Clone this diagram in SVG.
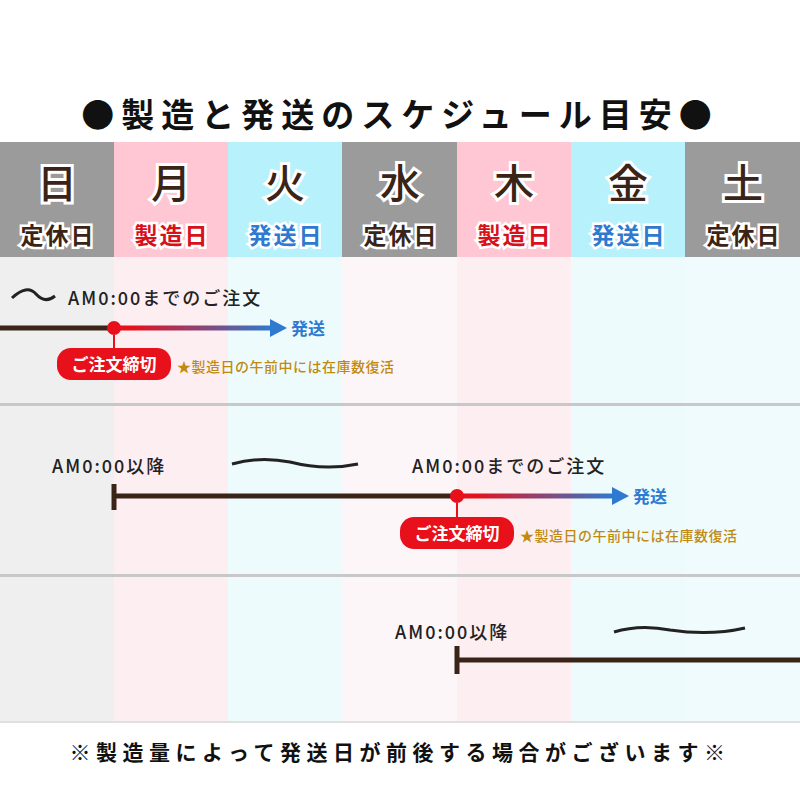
<svg xmlns="http://www.w3.org/2000/svg" width="800" height="800" viewBox="0 0 800 800">
<defs>
<style>
text{font-family:"Noto Sans CJK JP","Noto Sans",sans-serif;font-weight:bold}
.day{font-size:40px;font-weight:500;fill:#3a2418;stroke:#fff;stroke-width:6;paint-order:stroke;text-anchor:middle}
.sub{font-size:23px;stroke:#fff;stroke-width:5;paint-order:stroke;text-anchor:middle;letter-spacing:2px}
.am{font-family:"Noto Sans CJK JP",sans-serif;font-size:18px;font-weight:500;fill:#222;letter-spacing:2px}
.note{font-size:14px;fill:#c08a10;font-weight:500;letter-spacing:0.5px}
.bar{stroke:#3a2418;stroke-width:5}
</style>
<linearGradient id="g" x1="0" x2="1"><stop offset="0.1" stop-color="#e8101a"/><stop offset="1" stop-color="#2d7ad0"/></linearGradient>
</defs>
<rect width="800" height="800" fill="#fff"/>
<text x="400" y="127" font-size="33" text-anchor="middle" fill="#111" letter-spacing="7">●製造と発送のスケジュール目安●</text>
<g id="body">
<rect x="0" y="257" width="114" height="465" fill="#efefef"/>
<rect x="114" y="257" width="114" height="465" fill="#fdeef2"/>
<rect x="228" y="257" width="114" height="465" fill="#eefbfd"/>
<rect x="342" y="257" width="115" height="465" fill="#fdf6f8"/>
<rect x="457" y="257" width="114" height="465" fill="#fdeef2"/>
<rect x="571" y="257" width="114" height="465" fill="#eefbfd"/>
<rect x="685" y="257" width="115" height="465" fill="#effbfd"/>
<rect x="0" y="403" width="800" height="3" fill="#c8c8c8"/>
<rect x="0" y="574" width="800" height="3" fill="#c8c8c8"/>
<rect x="0" y="721" width="800" height="2" fill="#e0e0e0"/>
</g>
<g id="header">
<rect x="0" y="142" width="114" height="115" fill="#9b9b9b"/>
<rect x="114" y="142" width="114" height="115" fill="#ffc6d3"/>
<rect x="228" y="142" width="114" height="115" fill="#b7f1fb"/>
<rect x="342" y="142" width="115" height="115" fill="#9b9b9b"/>
<rect x="457" y="142" width="114" height="115" fill="#ffc6d3"/>
<rect x="571" y="142" width="114" height="115" fill="#b7f1fb"/>
<rect x="685" y="142" width="115" height="115" fill="#9b9b9b"/>
<text class="day" x="57" y="198">日</text><text class="day" x="171" y="198">月</text><text class="day" x="285" y="198">火</text><text class="day" x="400" y="198">水</text><text class="day" x="514" y="198">木</text><text class="day" x="628" y="198">金</text><text class="day" x="743" y="198">土</text>
<text class="sub" x="58" y="244" fill="#3a2418">定休日</text><text class="sub" x="172" y="244" fill="#d8101a">製造日</text><text class="sub" x="286" y="244" fill="#2d7ad0">発送日</text><text class="sub" x="401" y="244" fill="#3a2418">定休日</text><text class="sub" x="515" y="244" fill="#d8101a">製造日</text><text class="sub" x="629" y="244" fill="#2d7ad0">発送日</text><text class="sub" x="744" y="244" fill="#3a2418">定休日</text>
</g>
<g id="connectors" fill="none">
<path d="M12,298 Q27,284 36,294 Q45,304 55,296" stroke="#222" stroke-width="3"/>
<line class="bar" x1="0" y1="328" x2="114" y2="328"/>
<rect x="114" y="325.5" width="158" height="5" fill="url(#g)"/>
<path d="M270,319L287,328L270,337z" fill="#2d7ad0"/>
<path d="M232,464 Q260,456 290,462 Q325,471 358,464" stroke="#222" stroke-width="3"/>
<line class="bar" x1="114" y1="484" x2="114" y2="510"/>
<line class="bar" x1="114" y1="496" x2="457" y2="496"/>
<rect x="457" y="493.5" width="156" height="5" fill="url(#g)"/>
<path d="M612,487L629,496L612,505z" fill="#2d7ad0"/>
<path d="M614,632 Q640,624 670,630 Q710,636 745,628" stroke="#222" stroke-width="3"/>
<line class="bar" x1="457" y1="646" x2="457" y2="674"/>
<line class="bar" x1="457" y1="660" x2="800" y2="660"/>
</g>
<g id="row1">
<text class="am" x="68" y="305">AM0:00までのご注文</text>
<circle cx="114" cy="328" r="7" fill="#e8101a"/>
<path d="M114,335V350" stroke="#e8101a" stroke-width="2"/>
<rect x="57" y="348" width="114" height="32" rx="14" fill="#e8101a"/>
<text x="114" y="371" font-size="17" fill="#fff" text-anchor="middle">ご注文締切</text>
<text x="291" y="335" font-size="17" fill="#2d7ad0">発送</text>
<text class="note" x="177" y="372">★製造日の午前中には在庫数復活</text>
</g>
<g id="row2">
<text class="am" x="52" y="473">AM0:00以降</text>
<text class="am" x="412" y="473">AM0:00までのご注文</text>
<circle cx="457" cy="496" r="7" fill="#e8101a"/>
<path d="M457,503V518" stroke="#e8101a" stroke-width="2"/>
<rect x="400" y="517" width="114" height="32" rx="14" fill="#e8101a"/>
<text x="457" y="540" font-size="17" fill="#fff" text-anchor="middle">ご注文締切</text>
<text x="633" y="503" font-size="17" fill="#2d7ad0">発送</text>
<text class="note" x="520" y="541">★製造日の午前中には在庫数復活</text>
</g>
<g id="row3">
<text class="am" x="395" y="639">AM0:00以降</text>
</g>
<text x="400" y="760" font-size="21" text-anchor="middle" fill="#111" letter-spacing="5.5">※製造量によって発送日が前後する場合がございます※</text>
</svg>
